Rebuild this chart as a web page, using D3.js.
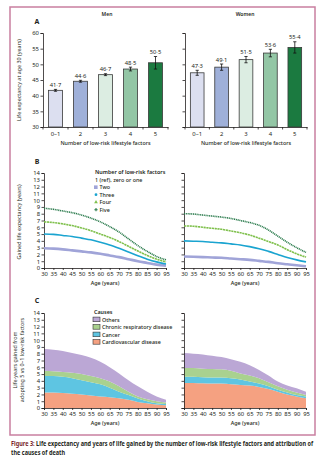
<!DOCTYPE html>
<html>
<head>
<meta charset="utf-8">
<script src="https://cdn.jsdelivr.net/npm/d3@7"></script>
<style>
body { margin: 0; background: #fff; }
text { font-family: "Noto Sans", sans-serif; fill: #231f20; }
.axis path, .axis line { stroke: #231f20; stroke-width: 0.8; }
.axis text { font-size: 5.9px; }
</style>
</head>
<body>
<div id="chart"></div>
<script>
// bar panel: life expectancy at age 30 by number of low-risk factors
var factorCats = ["0–1", "2", "3", "4", "5"];
var menLE = [41.7, 44.6, 46.7, 48.5, 50.5];
var menErr = [0.3, 0.3, 0.3, 0.6, 2.0];
var womenLE = [47.3, 49.1, 51.5, 53.6, 55.4];
var womenErr = [0.8, 1.0, 1.0, 1.2, 1.8];
var barColors = ["#dcdff0", "#9fb0d9", "#dcede2", "#93c6a5", "#1b7a40"];
var leTicks = [30, 35, 40, 45, 50, 55, 60];

// gained years by age
var ages = [30, 35, 40, 45, 50, 55, 60, 65, 70, 75, 80, 85, 90, 95];
var ageTicks = [30, 35, 40, 45, 50, 55, 60, 65, 70, 75, 80, 85, 90, 95];
var gainTicks = [0, 1, 2, 3, 4, 5, 6, 7, 8, 9, 10, 11, 12, 13, 14];

var menTwo   = [2.9, 2.85, 2.75, 2.6, 2.45, 2.3, 2.1, 1.85, 1.6, 1.3, 1.0, 0.75, 0.5, 0.35];
var menThree = [5.0, 4.95, 4.8, 4.65, 4.4, 4.15, 3.8, 3.4, 2.9, 2.35, 1.8, 1.3, 0.9, 0.6];
var menFour  = [6.8, 6.7, 6.5, 6.25, 5.9, 5.5, 5.0, 4.5, 3.9, 3.2, 2.5, 1.85, 1.3, 0.9];
var menFive  = [8.8, 8.65, 8.4, 8.15, 7.8, 7.35, 6.8, 6.1, 5.3, 4.3, 3.3, 2.45, 1.7, 1.2];

var womenTwo   = [1.7, 1.65, 1.6, 1.55, 1.5, 1.4, 1.3, 1.2, 1.05, 0.9, 0.7, 0.55, 0.4, 0.25];
var womenThree = [4.0, 3.95, 3.9, 3.8, 3.7, 3.55, 3.4, 3.15, 2.85, 2.45, 2.0, 1.55, 1.2, 0.9];
var womenFour  = [6.2, 6.15, 6.0, 5.85, 5.7, 5.45, 5.2, 4.85, 4.4, 3.9, 3.4, 2.7, 2.1, 1.6];
var womenFive  = [8.0, 7.95, 7.8, 7.65, 7.5, 7.3, 7.0, 6.7, 6.3, 5.6, 4.7, 3.8, 3.0, 2.3];

// attribution of gained years (5 vs 0-1 factors) by cause
var menCardio  = [2.3, 2.3, 2.2, 2.1, 2.0, 1.85, 1.7, 1.6, 1.45, 1.2, 0.9, 0.7, 0.5, 0.4];
var menCancer  = [2.4, 2.4, 2.4, 2.3, 2.1, 1.95, 1.8, 1.4, 0.95, 0.7, 0.5, 0.3, 0.2, 0.2];
var menChronic = [0.8, 0.7, 0.7, 0.8, 0.9, 0.9, 0.9, 0.9, 0.8, 0.5, 0.3, 0.3, 0.3, 0.2];
var menOthers  = [3.2, 3.2, 3.1, 2.9, 2.8, 2.7, 2.4, 2.1, 1.9, 1.7, 1.5, 1.1, 0.7, 0.4];

var womenCardio  = [3.7, 3.7, 3.65, 3.6, 3.6, 3.5, 3.4, 3.3, 3.1, 2.8, 2.4, 2.0, 1.7, 1.45];
var womenCancer  = [0.9, 0.9, 0.9, 0.9, 0.9, 0.9, 0.8, 0.6, 0.5, 0.4, 0.3, 0.3, 0.2, 0.25];
var womenChronic = [1.3, 1.3, 1.25, 1.25, 1.2, 1.1, 0.9, 0.9, 0.8, 0.6, 0.5, 0.4, 0.4, 0.2];
var womenOthers  = [2.2, 2.1, 2.1, 1.95, 1.8, 1.7, 1.7, 1.5, 1.2, 1.0, 0.7, 0.6, 0.6, 0.5];

var causeKeys = ["cardio", "cancer", "chronic", "others"];
var causeColors = { cardio: "#f5a181", cancer: "#5ec5e2", chronic: "#a9d18f", others: "#bba7d5" };

var svg = d3.select("#chart").append("svg")
    .attr("width", 332)
    .attr("height", 458);

svg.append("rect")
    .attr("x", 10).attr("y", 7)
    .attr("width", 305).attr("height", 428)
    .attr("fill", "none")
    .attr("stroke", "#c97fa0")
    .attr("stroke-width", 1.5);

var fmt = d3.format(".1f");
function lancet(v) { return fmt(v).replace(".", "·"); }

function label(x, y, str, size, weight, anchor) {
    return svg.append("text")
        .attr("x", x).attr("y", y)
        .attr("font-size", size)
        .attr("font-weight", weight || 400)
        .attr("text-anchor", anchor || "start")
        .text(str);
}

function vlabel(x, y, str, size) {
    return svg.append("text")
        .attr("transform", "translate(" + x + "," + y + ") rotate(-90)")
        .attr("font-size", size)
        .attr("text-anchor", "middle")
        .text(str);
}

// ---- A: bars ----
var yA = d3.scaleLinear().domain([30, 60]).range([127, 33]);

function barPanel(x0, x1, vals, errs, showY) {
    var x = d3.scaleBand().domain(factorCats).range([x0, x1]).paddingInner(0.44).paddingOuter(0.22);
    var g = svg.append("g");

    g.append("g").attr("class", "axis")
        .attr("transform", "translate(" + x0 + ",0)")
        .call(d3.axisLeft(yA).tickValues(leTicks).tickSize(2.5).tickPadding(1.5)
            .tickFormat(showY ? d3.format("d") : ""));

    var xa = g.append("g").attr("class", "axis")
        .attr("transform", "translate(0," + yA(30) + ")")
        .call(d3.axisBottom(x).tickSize(0).tickPadding(5));
    // ticks sit between the bars
    var firstEdge = x(factorCats[0]) - x.step() * x.paddingInner() / 2;
    xa.selectAll(".edge")
        .data(d3.range(factorCats.length + 1))
        .enter().append("line")
        .attr("class", "edge")
        .attr("x1", i => firstEdge + i * x.step())
        .attr("x2", i => firstEdge + i * x.step())
        .attr("y1", 0).attr("y2", 2.5);

    var data = factorCats.map((c, i) => ({ cat: c, v: vals[i], e: errs[i], col: barColors[i] }));

    g.selectAll(".bar").data(data).enter().append("rect")
        .attr("class", "bar")
        .attr("x", d => x(d.cat))
        .attr("width", x.bandwidth())
        .attr("y", d => yA(d.v))
        .attr("height", d => yA(30) - yA(d.v))
        .attr("fill", d => d.col)
        .attr("stroke", "#3a3a3a")
        .attr("stroke-width", 0.8);

    var eb = g.selectAll(".err").data(data).enter().append("g").attr("class", "err")
        .attr("stroke", "#111").attr("stroke-width", 0.8);
    eb.append("line")
        .attr("x1", d => x(d.cat) + x.bandwidth() / 2).attr("x2", d => x(d.cat) + x.bandwidth() / 2)
        .attr("y1", d => yA(d.v - d.e)).attr("y2", d => yA(d.v + d.e));
    eb.append("line")
        .attr("x1", d => x(d.cat) + x.bandwidth() / 2 - 1.6).attr("x2", d => x(d.cat) + x.bandwidth() / 2 + 1.6)
        .attr("y1", d => yA(d.v + d.e)).attr("y2", d => yA(d.v + d.e));
    eb.append("line")
        .attr("x1", d => x(d.cat) + x.bandwidth() / 2 - 1.6).attr("x2", d => x(d.cat) + x.bandwidth() / 2 + 1.6)
        .attr("y1", d => yA(d.v - d.e)).attr("y2", d => yA(d.v - d.e));

    g.selectAll(".val").data(data).enter().append("text")
        .attr("class", "val")
        .attr("x", d => x(d.cat) + x.bandwidth() / 2)
        .attr("y", d => yA(d.v + d.e) - 2.5)
        .attr("text-anchor", "middle")
        .attr("font-size", 5.8)
        .text(d => lancet(d.v));

    label((x0 + x1) / 2, 145, "Number of low-risk lifestyle factors", 5.4, 500, "middle");
}

barPanel(43, 168, menLE, menErr, true);
barPanel(185, 307, womenLE, womenErr, false);

label(107, 16, "Men", 5, 600, "middle");
label(245, 16, "Women", 5, 600, "middle");
label(37, 24, "A", 7, 700, "middle");
vlabel(21, 80, "Life expectancy at age 30 (years)", 5.4);

// ---- B: gained life expectancy lines ----
var yB = d3.scaleLinear().domain([0, 14]).range([268, 173]);
var yC = d3.scaleLinear().domain([0, 14]).range([408, 313]);

function ageAxes(x0, x1, y, showY) {
    var x = d3.scaleLinear().domain([30, 95]).range([x0, x1]);
    svg.append("g").attr("class", "axis")
        .attr("transform", "translate(" + x0 + ",0)")
        .call(d3.axisLeft(y).tickValues(gainTicks).tickSize(2.5).tickPadding(1.5)
            .tickFormat(showY ? d3.format("d") : ""));
    svg.append("g").attr("class", "axis")
        .attr("transform", "translate(0," + y(0) + ")")
        .call(d3.axisBottom(x).tickValues(ageTicks).tickSize(2).tickPadding(1.5).tickFormat(d3.format("d")));
    label((x0 + x1) / 2, y(0) + 17, "Age (years)", 5.4, 500, "middle");
    return x;
}

var lineStyles = [
    { name: "Two",   color: "#a0a4d8", width: 2.6, dash: null },
    { name: "Three", color: "#1aa4d0", width: 1.6, dash: null },
    { name: "Four",  color: "#7fc04c", width: 1.6, dash: "2.2 0.6" },
    { name: "Five",  color: "#2b7b4d", width: 1.6, dash: "1.1 0.7" }
];

function linePanel(x0, x1, series) {
    var x = ageAxes(x0, x1, yB, x0 < 100);
    var line = d3.line()
        .x((d, i) => x(ages[i]))
        .y(d => yB(d))
        .curve(d3.curveMonotoneX);
    series.forEach((s, k) => {
        svg.append("path")
            .attr("d", line(s))
            .attr("fill", "none")
            .attr("stroke", lineStyles[k].color)
            .attr("stroke-width", lineStyles[k].width)
            .attr("stroke-dasharray", lineStyles[k].dash);
    });
}

linePanel(44, 166, [menTwo, menThree, menFour, menFive]);
linePanel(184, 306, [womenTwo, womenThree, womenFour, womenFive]);

label(37, 164, "B", 7, 700, "middle");
vlabel(21, 222, "Gained life expectancy (years)", 5.4);

label(95, 174, "Number of low-risk factors", 5.4, 600);
label(95, 181.5, "1 (ref), zero or one", 5.4, 500);
var legY = [189, 196.5, 204, 211.5];
lineStyles.forEach((s, k) => {
    var cy = legY[k] - 1.8;
    if (k === 0) {
        svg.append("rect").attr("x", 94).attr("y", cy - 1.8).attr("width", 3.6).attr("height", 3.6).attr("fill", s.color);
    } else {
        var sym = [null, d3.symbolCircle, d3.symbolTriangle, d3.symbolCross][k];
        svg.append("path")
            .attr("transform", "translate(96," + cy + ")")
            .attr("d", d3.symbol().type(sym).size(6)())
            .attr("fill", s.color);
    }
    label(99.5, legY[k], s.name, 5.4, 500);
});

// ---- C: stacked causes ----
function stackPanel(x0, x1, cardio, cancer, chronic, others) {
    var x = ageAxes(x0, x1, yC, x0 < 100);
    var rows = ages.map((a, i) => ({ age: a, cardio: cardio[i], cancer: cancer[i], chronic: chronic[i], others: others[i] }));
    var layers = d3.stack().keys(causeKeys)(rows);
    var area = d3.area()
        .x(d => x(d.data.age))
        .y0(d => yC(d[0]))
        .y1(d => yC(d[1]))
        .curve(d3.curveMonotoneX);
    svg.insert("g", ":first-child").selectAll("path").data(layers).enter().append("path")
        .attr("d", area)
        .attr("fill", d => causeColors[d.key]);
}

stackPanel(44, 166, menCardio, menCancer, menChronic, menOthers);
stackPanel(184, 306, womenCardio, womenCancer, womenChronic, womenOthers);

label(37, 303, "C", 7, 700, "middle");
vlabel(17, 360, "Life-years gained from", 5.4);
vlabel(24, 360, "adopting 5 vs 0–1 low-risk factors", 5.4);

label(94, 314, "Causes", 5.4, 600);
var causeLegend = [
    { key: "others", text: "Others" },
    { key: "chronic", text: "Chronic respiratory disease" },
    { key: "cancer", text: "Cancer" },
    { key: "cardio", text: "Cardiovascular disease" }
];
causeLegend.forEach((c, k) => {
    var yy = 321.5 + k * 7.5;
    svg.append("rect")
        .attr("x", 93).attr("y", yy - 4.4)
        .attr("width", 7).attr("height", 4.6)
        .attr("fill", causeColors[c.key])
        .attr("stroke", "#333").attr("stroke-width", 0.6);
    label(102, yy, c.text, 5.4, 500);
});

// ---- caption: squeeze each line horizontally so it fits the column ----
function fitLine(t, x, y, width) {
    var w = t.node().getComputedTextLength();
    var s = Math.min(1, width / w);
    t.attr("x", 0).attr("y", 0)
        .attr("transform", "translate(" + x + "," + y + ") scale(" + s + ",1)");
}
var cap = svg.append("text").attr("font-size", 6.1).attr("font-weight", 700);
cap.append("tspan").attr("fill", "#7a1f2b").text("Figure 3: ");
cap.append("tspan").text("Life expectancy and years of life gained by the number of low-risk lifestyle factors and attribution of");
fitLine(cap, 11, 446, 302);
var cap2 = svg.append("text").attr("font-size", 6.1).attr("font-weight", 700).text("the causes of death");
cap2.attr("transform", "translate(11,454.5) scale(" + (302 / cap.node().getComputedTextLength()) + ",1)");
</script>
</body>
</html>
